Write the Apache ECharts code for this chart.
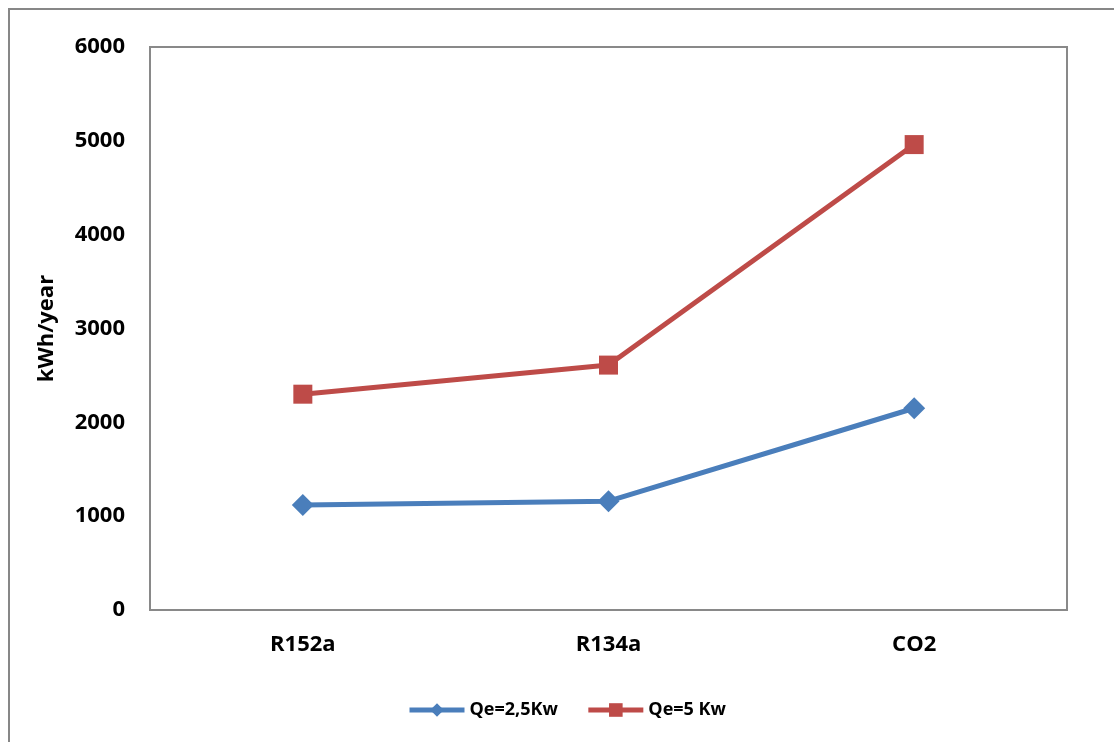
<!DOCTYPE html>
<html>
<head>
<meta charset="utf-8">
<script src="https://cdn.jsdelivr.net/npm/echarts@6/dist/echarts.min.js"></script>
<style>
html,body{margin:0;padding:0;background:#fff;}
#chart{width:1114px;height:742px;}
</style>
</head>
<body>
<div id="chart"></div>
<script>
const categories = ['R152a', 'R134a', 'CO2'];
const seriesNames = ['Qe=2,5Kw', 'Qe=5 Kw'];
const qe25 = [1120, 1160, 2150];
const qe5 = [2300, 2610, 4960];
const yTicks = { min: 0, max: 6000, interval: 1000 };
const yAxisTitle = 'kWh/year';

const FONT = '"Open Sans", "Liberation Sans", sans-serif';
const chart = echarts.init(document.getElementById('chart'), null, { renderer: 'canvas' });
chart.setOption({
  animation: false,
  backgroundColor: '#fff',
  graphic: [{
    type: 'rect',
    shape: { x: 9, y: 9, width: 1200, height: 800 },
    style: { fill: 'none', stroke: '#878787', lineWidth: 2 },
    silent: true
  }],
  grid: {
    left: 150, top: 47, right: 47, bottom: 132,
    show: true, borderColor: '#898989', borderWidth: 2, backgroundColor: 'transparent'
  },
  legend: {
    bottom: 18, left: 402,
    itemWidth: 55, itemHeight: 17, itemGap: 28,
    lineStyle: { width: 5 },
    textStyle: { fontFamily: FONT, fontWeight: 'bold', fontSize: 18, color: '#000' },
    data: seriesNames
  },
  xAxis: {
    type: 'category',
    data: categories,
    boundaryGap: true,
    axisLine: { show: false },
    axisTick: { show: false },
    axisLabel: { margin: 24, fontFamily: FONT, fontWeight: 'bold', fontSize: 22, color: '#000' },
    splitLine: { show: false }
  },
  yAxis: {
    type: 'value',
    min: yTicks.min, max: yTicks.max, interval: yTicks.interval,
    name: yAxisTitle,
    nameLocation: 'middle',
    nameGap: 92,
    nameRotate: 90,
    nameTextStyle: { fontFamily: FONT, fontWeight: 'bold', fontSize: 22, color: '#000' },
    axisLine: { show: false },
    axisTick: { show: false },
    axisLabel: {
      margin: 25, fontFamily: FONT, fontWeight: 'bold', fontSize: 22, color: '#000',
      formatter: function (v) { return String(v); }
    },
    splitLine: { show: false }
  },
  series: [
    {
      name: seriesNames[0], type: 'line', data: qe25,
      symbol: 'diamond', symbolSize: 22,
      lineStyle: { color: '#4A7EBB', width: 5 },
      itemStyle: { color: '#4A7EBB' }
    },
    {
      name: seriesNames[1], type: 'line', data: qe5,
      symbol: 'rect', symbolSize: 19,
      lineStyle: { color: '#BE4B48', width: 5 },
      itemStyle: { color: '#BE4B48' }
    }
  ]
});
</script>
</body>
</html>
